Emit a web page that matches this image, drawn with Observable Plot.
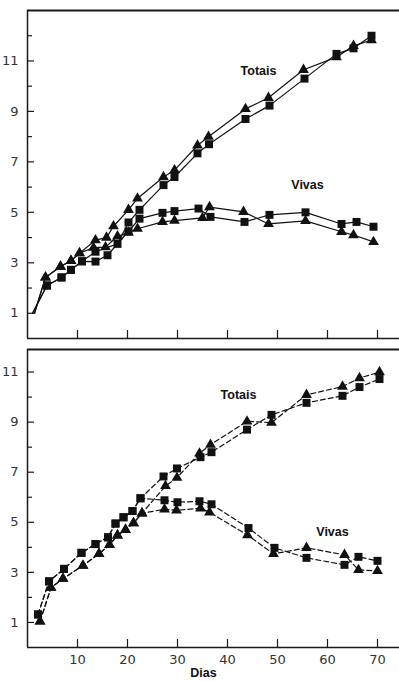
<!DOCTYPE html>
<html><head><meta charset="utf-8">
<script src="https://cdn.jsdelivr.net/npm/d3@7"></script>
<script src="https://cdn.jsdelivr.net/npm/@observablehq/plot@0.6"></script>
<style>
body{margin:0;background:#fff;}
#chart svg{display:block;}
</style>
</head><body><div id="chart"></div>
<script>
// ---- tick values ----
const xTicks = [10, 20, 30, 40, 50, 60, 70];
const yMajor = [1, 3, 5, 7, 9, 11];
const yMinorTop = [2, 4, 6, 8, 10, 12];
const yMinorBottom = [2, 4, 6, 8, 10];
const seriesNames = ["Totais", "Vivas"];

// ---- top panel (solid lines) ----
const topTotSqDays = [1.0, 3.9, 6.8, 8.7, 10.9, 13.6, 18.0, 20.2, 22.4, 27.2, 29.4, 34.0, 36.3, 43.6, 48.4, 55.4, 61.8, 65.2, 68.8];
const topTotSqVals = [1.0, 2.1, 2.42, 2.72, 3.06, 3.44, 3.75, 4.6, 5.1, 6.08, 6.4, 7.34, 7.7, 8.7, 9.23, 10.3, 11.28, 11.5, 12.0];
const topTotTriDays = [1.4, 3.6, 6.6, 8.7, 10.4, 13.6, 15.8, 17.2, 20.2, 22.0, 27.2, 29.4, 34.0, 36.2, 43.6, 48.2, 55.2, 61.8, 65.2, 68.8];
const topTotTriVals = [1.0, 2.42, 2.85, 3.08, 3.38, 3.9, 4.0, 4.45, 5.1, 5.55, 6.4, 6.67, 7.65, 8.0, 9.1, 9.54, 10.65, 11.15, 11.6, 11.83];
const topVivSqDays = [1.0, 3.9, 6.8, 8.7, 10.9, 13.6, 16.0, 20.2, 22.4, 27.0, 29.4, 34.2, 36.6, 43.4, 48.4, 55.6, 62.8, 65.8, 69.2];
const topVivSqVals = [1.0, 2.1, 2.42, 2.72, 3.06, 3.05, 3.3, 4.25, 4.75, 4.98, 5.05, 5.15, 4.82, 4.62, 4.9, 5.0, 4.54, 4.62, 4.43];
const topVivTriDays = [1.4, 3.6, 6.6, 8.7, 10.4, 13.2, 15.6, 18.0, 20.2, 22.0, 27.0, 29.4, 35.0, 36.4, 43.2, 48.2, 55.6, 62.8, 65.2, 69.2];
const topVivTriVals = [1.0, 2.42, 2.85, 3.08, 3.38, 3.6, 3.62, 4.05, 4.2, 4.35, 4.62, 4.67, 4.78, 5.21, 5.02, 4.54, 4.66, 4.23, 4.1, 3.83];
const topLabelDays = [46.2, 56.0];
const topLabelVals = [10.6, 6.08];

// ---- bottom panel (dashed lines) ----
const botTotSqDays = [2.1, 4.3, 7.3, 10.8, 13.6, 16.1, 17.6, 19.2, 21.0, 22.6, 27.2, 29.9, 34.6, 36.8, 43.9, 48.8, 55.8, 63.0, 66.4, 70.4];
const botTotSqVals = [1.32, 2.64, 3.14, 3.78, 4.13, 4.4, 4.95, 5.2, 5.45, 5.96, 6.83, 7.15, 7.6, 7.8, 8.7, 9.29, 9.77, 10.05, 10.4, 10.72];
const botTotTriDays = [2.5, 4.7, 7.1, 11.1, 14.3, 16.4, 18.0, 19.6, 21.2, 22.9, 27.6, 29.9, 34.4, 36.6, 43.9, 48.8, 55.8, 63.0, 66.4, 70.4];
const botTotTriVals = [1.04, 2.39, 2.75, 3.27, 3.74, 4.1, 4.48, 4.7, 4.97, 5.36, 6.45, 6.78, 7.75, 8.1, 9.03, 8.98, 10.09, 10.42, 10.76, 11.0];
const botVivSqDays = [2.1, 4.3, 7.3, 10.8, 13.6, 16.1, 17.6, 19.2, 21.0, 22.6, 27.4, 30.0, 34.4, 36.8, 44.2, 49.4, 55.8, 63.4, 66.2, 70.0];
const botVivSqVals = [1.32, 2.64, 3.14, 3.78, 4.13, 4.4, 4.95, 5.2, 5.45, 5.96, 5.88, 5.8, 5.84, 5.72, 4.77, 3.98, 3.58, 3.3, 3.62, 3.46];
const botVivTriDays = [2.5, 4.7, 7.1, 11.1, 14.3, 16.4, 18.0, 19.6, 21.2, 22.9, 27.4, 29.8, 34.6, 36.4, 44.0, 49.2, 55.8, 63.4, 66.2, 70.0];
const botVivTriVals = [1.04, 2.39, 2.75, 3.27, 3.74, 4.1, 4.48, 4.7, 4.97, 5.36, 5.52, 5.48, 5.56, 5.4, 4.49, 3.74, 3.98, 3.7, 3.1, 3.06];
const botLabelDays = [42.2, 61.0];
const botLabelVals = [10.07, 4.63];

const xLabel = "Dias";

function rowsOf(days, vals, group, shape) {
  return days.map((d, i) => ({day: d, value: vals[i], group, shape, i}));
}

const W = 399, ML = 27, XMAX = 74.4;
const tickFont = "'DejaVu Sans', sans-serif";
const labelFont = "'Liberation Sans', Arial, sans-serif";

function panel({series, height, marginTop, marginBottom, yMax, minor, dash, labelDays, labelVals, bottom, skipFirst}) {
  const innerH = height - marginTop - marginBottom;
  const innerW = W - ML;
  const rows = series.flat();
  const dotsRows = skipFirst ? rows.filter(d => d.i > 0) : rows;
  const labels = seriesNames.map((t, k) => ({t, day: labelDays[k], value: labelVals[k]}));
  const marks = [
    Plot.ruleY([yMax], {stroke: "#1a1a1a", strokeWidth: 2}),
    Plot.ruleY([0], {stroke: "#1a1a1a", strokeWidth: 1.5}),
    Plot.ruleX([0], {stroke: "#1a1a1a", strokeWidth: 1.5}),
    Plot.tickY(yMajor, {y: d => d, insetRight: innerW - 7, stroke: "#1a1a1a", strokeWidth: 1.2}),
    Plot.tickY(minor, {y: d => d, insetRight: innerW - 5, stroke: "#1a1a1a", strokeWidth: 1.2}),
    Plot.tickX(xTicks, {x: d => d, insetTop: innerH - 8, stroke: "#1a1a1a", strokeWidth: 1.2}),
    Plot.axisY(yMajor, {tickSize: 0, tickPadding: 9, fontSize: 13, fontFamily: tickFont, fill: "#333", label: null}),
    Plot.line(rows, {x: "day", y: "value", z: d => d.group + d.shape, stroke: "#111", strokeWidth: 1.2, strokeDasharray: dash}),
    Plot.dot(dotsRows.filter(d => d.shape === "sq"), {x: "day", y: "value", symbol: "square", r: 4.5, fill: "#111"}),
    Plot.dot(dotsRows.filter(d => d.shape === "tri"), {x: "day", y: "value", symbol: "triangle", r: 4, fill: "#111"}),
    Plot.text(labels, {x: "day", y: "value", text: "t", fontWeight: "bold", fontSize: 12.5, fontFamily: labelFont, fill: "#111"})
  ];
  if (bottom) {
    marks.push(Plot.axisX(xTicks, {tickSize: 0, tickPadding: 7, fontSize: 13, fontFamily: tickFont, fill: "#333", label: null}));
    marks.push(Plot.text([xLabel], {frameAnchor: "bottom", text: d => d, dy: 29, dx: -10, fontWeight: "bold", fontSize: 12.5, fontFamily: labelFont, fill: "#111"}));
  }
  return Plot.plot({
    width: W, height, marginLeft: ML, marginRight: 0, marginTop, marginBottom,
    x: {domain: [0, XMAX], axis: null, label: null},
    y: {domain: [0, yMax], axis: null, label: null},
    style: {background: "#fff", fontFamily: tickFont, fontSize: "13px", overflow: "visible"},
    marks
  });
}

const topPanel = panel({
  series: [
    rowsOf(topTotSqDays, topTotSqVals, "Totais", "sq"),
    rowsOf(topTotTriDays, topTotTriVals, "Totais", "tri"),
    rowsOf(topVivSqDays, topVivSqVals, "Vivas", "sq"),
    rowsOf(topVivTriDays, topVivTriVals, "Vivas", "tri")
  ],
  height: 344, marginTop: 10, marginBottom: 6, yMax: 13, minor: yMinorTop, dash: null,
  labelDays: topLabelDays, labelVals: topLabelVals, bottom: false, skipFirst: true
});
const bottomPanel = panel({
  series: [
    rowsOf(botTotSqDays, botTotSqVals, "Totais", "sq"),
    rowsOf(botTotTriDays, botTotTriVals, "Totais", "tri"),
    rowsOf(botVivSqDays, botVivSqVals, "Vivas", "sq"),
    rowsOf(botVivTriDays, botVivTriVals, "Vivas", "tri")
  ],
  height: 337, marginTop: 5, marginBottom: 34, yMax: 11.9, minor: yMinorBottom, dash: "5,3",
  labelDays: botLabelDays, labelVals: botLabelVals, bottom: true, skipFirst: false
});
document.getElementById("chart").append(topPanel, bottomPanel);
</script>
</body></html>
